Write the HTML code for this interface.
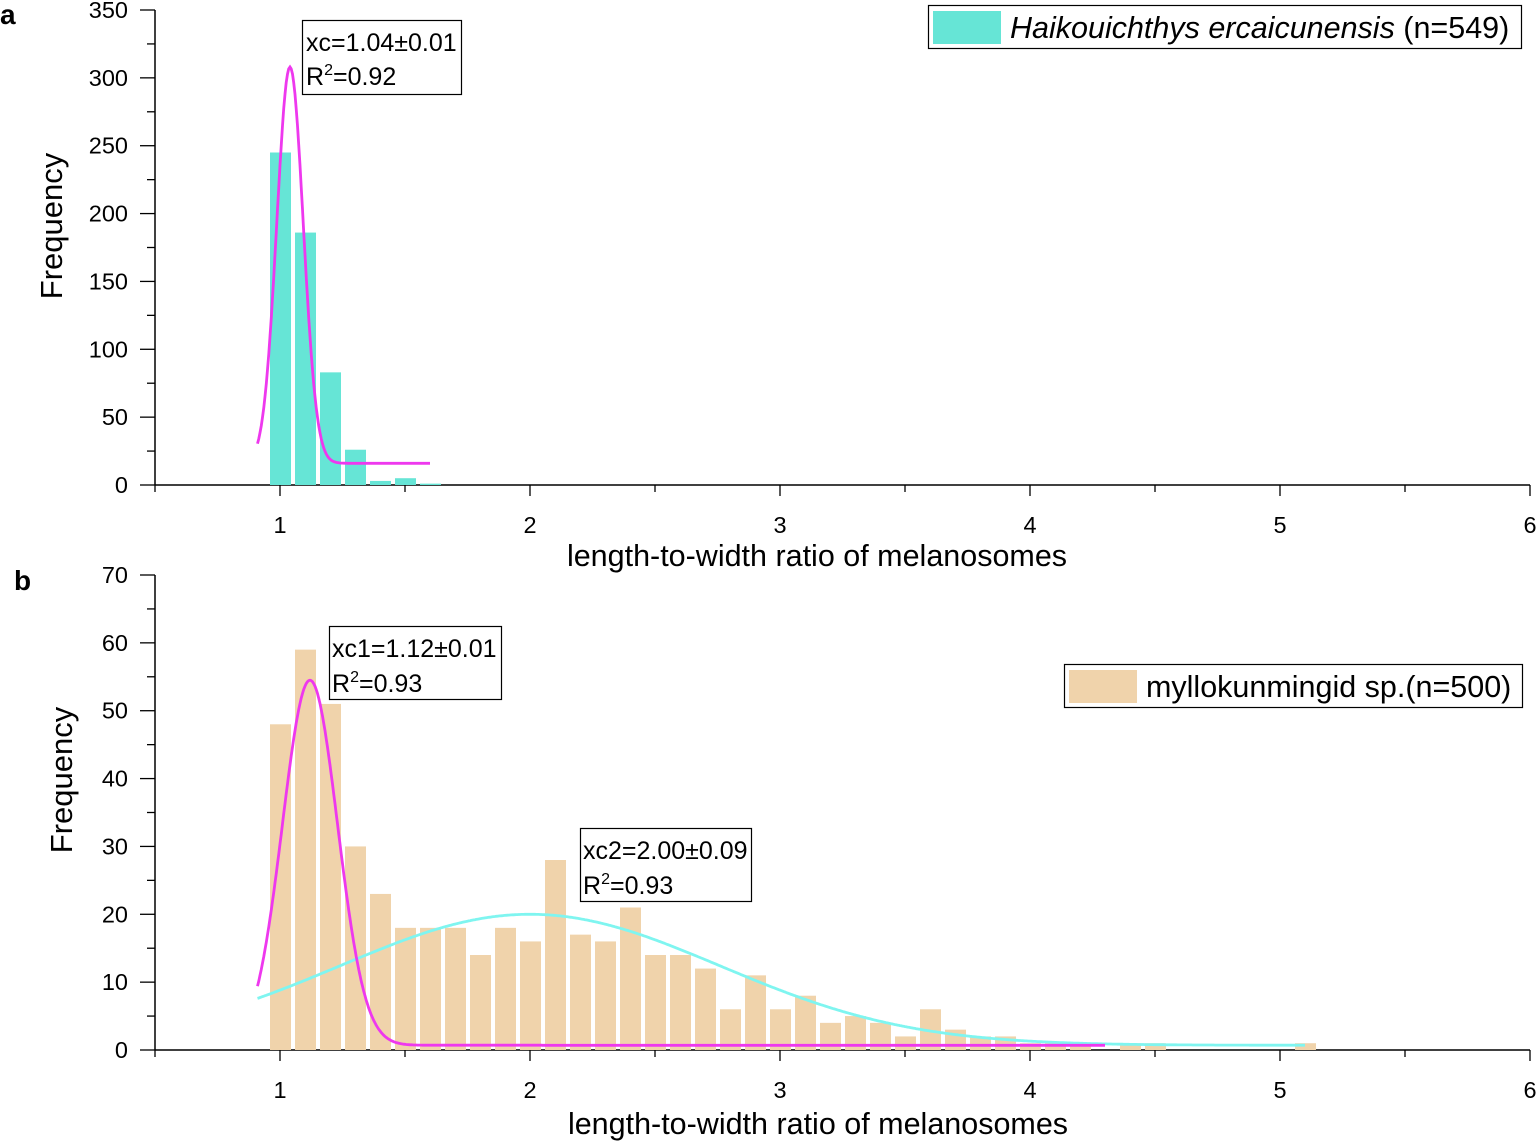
<!DOCTYPE html>
<html><head><meta charset="utf-8"><style>
html,body{margin:0;padding:0;background:#fff;}
svg{display:block;font-family:"Liberation Sans",Arial,sans-serif;}
</style></head><body>
<svg id="s" width="1536" height="1142" viewBox="0 0 1536 1142" xmlns="http://www.w3.org/2000/svg">
<text x="0" y="24" font-size="28" font-weight="bold">a</text>
<text x="14" y="590" font-size="28" font-weight="bold">b</text>
<g id="g"></g>
<text transform="translate(62,226) rotate(-90)" font-size="31" text-anchor="middle">Frequency</text>
<text x="817" y="566" font-size="30.5" text-anchor="middle">length-to-width ratio of melanosomes</text>
<rect x="302.5" y="20.5" width="159" height="74" fill="#fff" stroke="#000" stroke-width="1.2"/>
<text x="306" y="51" font-size="25">xc=1.04±0.01</text>
<text x="306" y="85" font-size="25">R<tspan dy="-10" font-size="16">2</tspan><tspan dy="10">=0.92</tspan></text>
<rect x="928.5" y="5.5" width="593" height="43" fill="#fff" stroke="#000" stroke-width="1.2"/>
<rect x="933" y="11" width="68" height="33" fill="#66e5d6"/>
<text x="1010" y="38" font-size="30.5"><tspan font-style="italic">Haikouichthys ercaicunensis</tspan> (n=549)</text>
<text transform="translate(72,780) rotate(-90)" font-size="31" text-anchor="middle">Frequency</text>
<text x="818" y="1134" font-size="30.5" text-anchor="middle">length-to-width ratio of melanosomes</text>
<rect x="329.5" y="626.5" width="172" height="73" fill="#fff" stroke="#000" stroke-width="1.2"/>
<text x="332" y="657" font-size="25">xc1=1.12±0.01</text>
<text x="332" y="692" font-size="25">R<tspan dy="-10" font-size="16">2</tspan><tspan dy="10">=0.93</tspan></text>
<rect x="580.5" y="828.5" width="171" height="73" fill="#fff" stroke="#000" stroke-width="1.2"/>
<text x="583" y="859" font-size="25">xc2=2.00±0.09</text>
<text x="583" y="894" font-size="25">R<tspan dy="-10" font-size="16">2</tspan><tspan dy="10">=0.93</tspan></text>
<rect x="1064.5" y="664.5" width="458" height="43" fill="#fff" stroke="#000" stroke-width="1.2"/>
<rect x="1069" y="670" width="68" height="33" fill="#f0d3ab"/>
<text x="1146" y="697" font-size="30.5">myllokunmingid sp.(n=500)</text>
</svg>
<script>
(function(){
var g=document.getElementById('g'),h='';
function X(v){return 155+250*(v-0.5);}
function axes(y0,ymax,ystep,top){
  var ppu=(y0-top)/ymax;
  h+='<line x1="155" y1="'+top+'" x2="155" y2="'+y0+'" stroke="#000" stroke-width="1.5"/>';
  h+='<line x1="155" y1="'+y0+'" x2="1530" y2="'+y0+'" stroke="#000" stroke-width="1.5"/>';
  for(var v=0;v<=ymax+1e-9;v+=ystep/2){
    var y=y0-v*ppu, maj=Math.abs(v/ystep-Math.round(v/ystep))<1e-6;
    h+='<line x1="'+(maj?140:147)+'" y1="'+y+'" x2="155" y2="'+y+'" stroke="#000" stroke-width="1.3"/>';
    if(maj)h+='<text x="128" y="'+(y+8)+'" font-size="23.5" text-anchor="end">'+Math.round(v)+'</text>';
  }
  for(var k=0.5;k<=6.01;k+=0.5){
    var x=X(k),maj=Math.abs(k-Math.round(k))<1e-6;
    h+='<line x1="'+x+'" y1="'+y0+'" x2="'+x+'" y2="'+(y0+(maj?11:7))+'" stroke="#000" stroke-width="1.3"/>';
    if(maj)h+='<text x="'+x+'" y="'+(y0+48)+'" font-size="23.5" text-anchor="middle">'+k+'</text>';
  }
  return ppu;
}
function bars(y0,ppu,arr,col){
  for(var i=0;i<arr.length;i++){ if(!arr[i])continue;
    var hh=arr[i]*ppu;
    h+='<rect x="'+(270+25*i)+'" y="'+(y0-hh)+'" width="21" height="'+hh+'" fill="'+col+'"/>';}
}
function curve(y0,ppu,c,A,s,b,x1,x2,col){
  var d='';
  for(var v=x1;v<=x2+1e-9;v+=0.005){
    var f=b+A*Math.exp(-(v-c)*(v-c)/(2*s*s));
    d+=(d?'L':'M')+X(v).toFixed(1)+' '+(y0-f*ppu).toFixed(1);
  }
  h+='<path d="'+d+'" fill="none" stroke="'+col+'" stroke-width="2.8"/>';
}
var pa=axes(485,350,50,10);
bars(485,pa,[245,186,83,26,3,5,1],'#66e5d6');
curve(485,pa,1.04,292,0.053,16,0.91,1.6,'#ee38ee');
var pb=axes(1050,70,10,575);
var B=[48,59,51,30,23,18,18,18,14,18,16,28,17,16,21,14,14,12,6,11,6,8,4,5,4,2,6,3,2,2,1,1,1,0,1,1,0,0,0,0,0,1];
bars(1050,pb,B,'#f0d3ab');
curve(1050,pb,2.0,19.3,0.76,0.7,0.91,5.1,'#7ff5f0');
curve(1050,pb,1.12,53.8,0.11,0.7,0.91,4.3,'#ee38ee');
g.innerHTML=h;
})();
</script>
</body></html>
